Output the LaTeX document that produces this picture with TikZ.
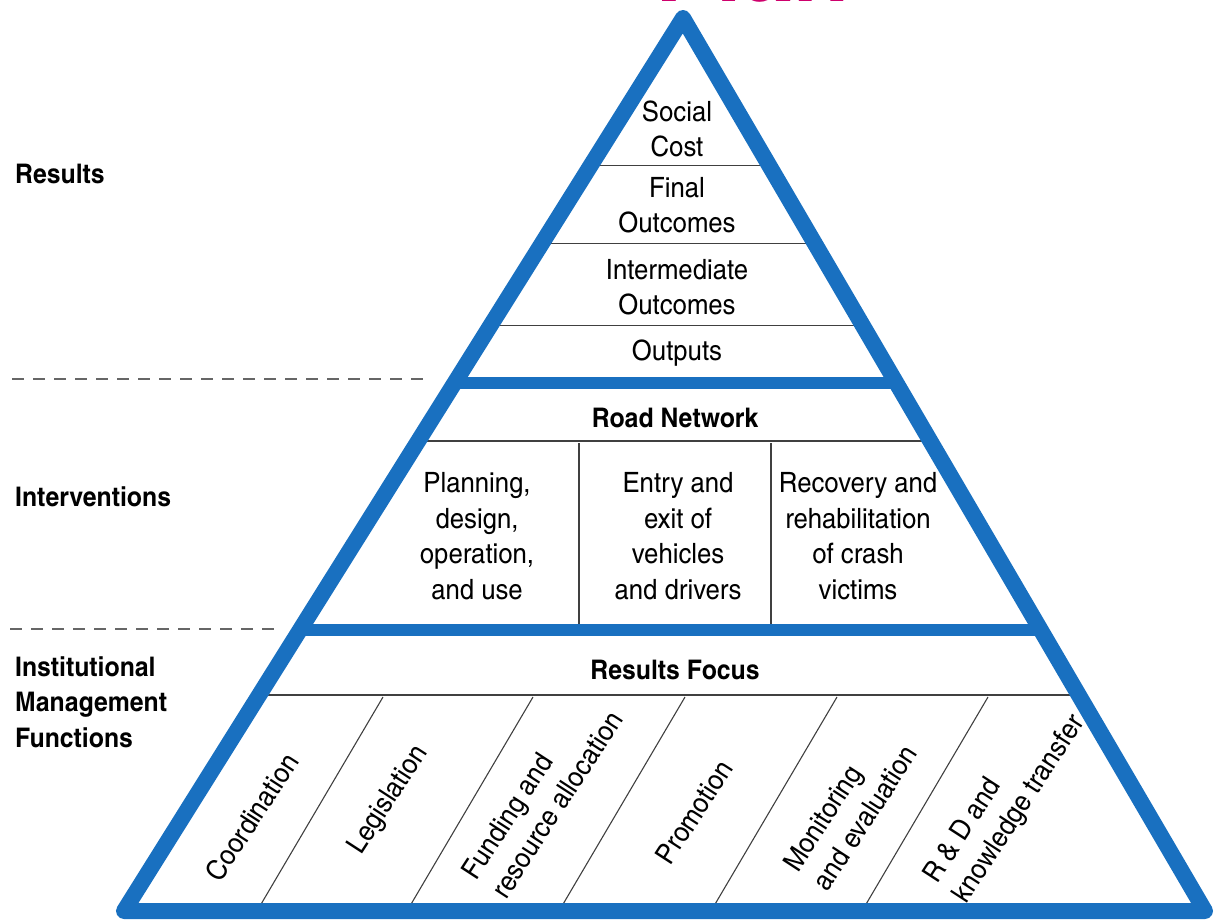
\documentclass[tikz,border=0pt]{standalone}
\usepackage{fontspec}
\setmainfont{texgyreheroscn}[Extension=.otf,UprightFont=*-regular,BoldFont=*-bold,ItalicFont=*-italic,BoldItalicFont=*-bolditalic,FakeStretch=1.12]
\newfontfamily\titlefont{TeX Gyre Heros}
\usetikzlibrary{calc}
\definecolor{pyrblue}{RGB}{25,112,192}
\definecolor{plancolor}{RGB}{206,0,108}
\newcommand\cellsize{\fontsize{28}{35.5}\selectfont}
\newcommand\headsize{\fontsize{27}{35.5}\selectfont\bfseries}
\begin{document}
\begin{tikzpicture}[x=1pt,y=-1pt,line join=round,
	cell/.style={align=center,font=\cellsize,inner sep=0pt},
	head/.style={align=center,font=\headsize,inner sep=0pt},
	side/.style={align=left,anchor=west,font=\headsize,inner sep=0pt},
	slant/.style={align=left,rotate=57,font=\cellsize,inner sep=0pt},
	thin/.style={line width=1.1pt,black!75},
	band/.style={line width=12pt,pyrblue},
	guide/.style={line width=1.5pt,black!60,dash pattern=on 12pt off 9pt}]
	\useasboundingbox (0,0) rectangle (1214,921);
	\coordinate (apex) at (683,18);
	\coordinate (bl) at (124,911);
	\coordinate (br) at (1205,911);
	\node[font=\titlefont\fontsize{92}{92}\selectfont\bfseries,text=plancolor,anchor=base west,inner sep=0pt] (plan) at (655,1) {Plan};
	\foreach \t/\n in {0.1652/cost,0.2525/final,0.3443/inter,0.4737/road,0.7581/focus}
		\draw[thin] ($(apex)!\t!(bl)$) coordinate (\n l) -- ($(apex)!\t!(br)$) coordinate (\n r);
	\draw[thin] (579,443) -- (579,630) (771,443) -- (771,630);
	\foreach \x in {383,533,685,837,988}
		\draw[thin] (\x,697) -- (\x-126,911);
	\foreach \t/\n in {0.4087/upper,0.6853/lower}
		\draw[band] ($(apex)!\t!(bl)$) coordinate (\n l) -- ($(apex)!\t!(br)$) coordinate (\n r);
	\draw[line width=16pt,pyrblue] (apex) -- (bl) -- (br) -- cycle;
	\draw[guide] (12,379) -- (430,379);
	\draw[guide] (10,629) -- (278,629);
	\node[cell] (social) at (677,129) {Social\\Cost};
	\node[cell] (finalout) at (677,205) {Final\\Outcomes};
	\node[cell] (interout) at (677,287) {Intermediate\\Outcomes};
	\node[cell] (outputs) at (677,353) {Outputs};
	\node[head] (network) at (675,418) {Road Network};
	\node[cell] (planning) at (477,536) {Planning,\\design,\\operation,\\and use};
	\node[cell] (entry) at (678,536) {Entry and\\exit of\\vehicles\\and drivers};
	\node[cell] (recovery) at (858,536) {Recovery and\\rehabilitation\\of crash\\victims};
	\node[head] (resfocus) at (675,670) {Results Focus};
	\node[side] (results) at (15,174) {Results};
	\node[side] (interv) at (15,497) {Interventions};
	\node[side] (instit) at (15,702) {Institutional\\Management\\Functions};
	\node[slant] (coord) at (252,817) {Coordination};
	\node[slant] (legis) at (389,800) {Legislation};
	\node[slant] (funding) at (542,795) {Funding and\\resource allocation};
	\node[slant] (promo) at (694,812) {Promotion};
	\node[slant] (monitor) at (850,808) {Monitoring\\and evaluation};
	\node[slant] (rnd) at (1005,800) {R \& D and\\knowledge transfer};
\end{tikzpicture}
\end{document}
